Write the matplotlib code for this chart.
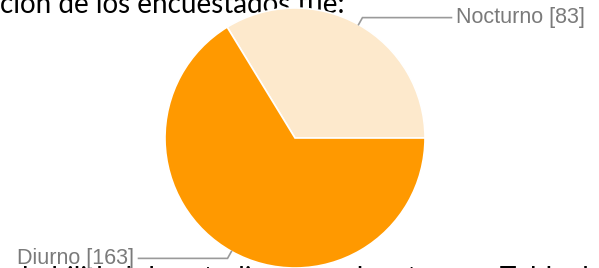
import numpy as np
import matplotlib.pyplot as plt

# datos del grafico
categorias = ['Nocturno', 'Diurno']
valores = [83, 163]
colores = ['#FDE9CC', '#FF9900']

W, H = 599, 268
cx, cy, r = 295, H - 138, 130

fig = plt.figure(figsize=(W / 100, H / 100), dpi=100)
ax = fig.add_axes([0, 0, 1, 1])

wedges, _ = ax.pie(valores, colors=colores, startangle=0, counterclock=True,
                   center=(cx, cy), radius=r, frame=True,
                   wedgeprops=dict(edgecolor='white', linewidth=1.2))
ax.set_xlim(0, W)
ax.set_ylim(0, H)
ax.set_aspect('equal')
ax.axis('off')

# texto del documento alrededor (cortado por el recorte)
ax.text(0, H - 13, 'ción de los encuestados fue:', ha='left', va='baseline',
        fontsize=20, color='black', family='Lato', zorder=0)
ax.text(22, -19, 'habilidad de estudiar en ambos turnos. Tabla de año',
        ha='left', va='baseline', fontsize=20, color='black', family='Lato',
        zorder=0)

# etiquetas con lineas guia
for w, nombre, val in zip(wedges, categorias, valores):
    ang = np.radians((w.theta1 + w.theta2) / 2)
    x0, y0 = cx + r * np.cos(ang), cy + r * np.sin(ang)
    x1, y1 = cx + (r + 8) * np.cos(ang), cy + (r + 8) * np.sin(ang)
    if np.cos(ang) >= 0:
        x2 = x1 + 89
        ha, xt = 'left', x2 + 5
    else:
        x2 = x1 - 89
        ha, xt = 'right', x2 - 5
    ax.plot([x0, x1, x2], [y0, y1, y1], color='#9a9a9a', lw=1.2,
            solid_joinstyle='miter')
    ax.text(xt, y1, f'{nombre} [{val}]', ha=ha, va='center',
            fontsize=15.5, color='#7a7a7a', family='Liberation Sans')

fig.savefig('out.png', dpi=100)
